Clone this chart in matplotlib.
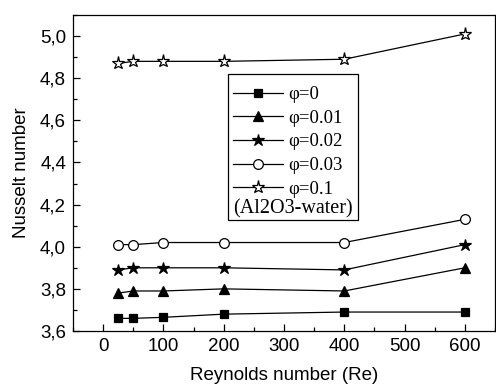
import numpy as np
import matplotlib.pyplot as plt
from matplotlib.ticker import MultipleLocator, FuncFormatter
from matplotlib.patches import Rectangle

# data
re = [25, 50, 100, 200, 400, 600]
nu_0 = [3.66, 3.66, 3.665, 3.68, 3.69, 3.69]
nu_001 = [3.78, 3.79, 3.79, 3.80, 3.79, 3.90]
nu_002 = [3.89, 3.90, 3.90, 3.90, 3.89, 4.01]
nu_003 = [4.01, 4.01, 4.02, 4.02, 4.02, 4.13]
nu_01 = [4.87, 4.88, 4.88, 4.88, 4.89, 5.01]
labels = ['φ=0', 'φ=0.01', 'φ=0.02', 'φ=0.03', 'φ=0.1']

fig = plt.figure(figsize=(4.96, 3.88), dpi=100)
ax = fig.add_axes([73/496, 1-331/388, 422/496, 316/388])

styles = [('s', 'black', 6), ('^', 'black', 7.5), ('*', 'black', 9),
          ('o', 'white', 7), ('*', 'white', 9.5)]
series = [nu_0, nu_001, nu_002, nu_003, nu_01]
for y, lab, (m, fc, ms) in zip(series, labels, styles):
    ax.plot(re, y, color='black', lw=0.9, marker=m, ms=ms,
            mfc=fc, mec='black', mew=0.9, label=lab)

ax.set_xlim(-50, 650)
ax.set_ylim(3.6, 5.1)
ax.xaxis.set_major_locator(MultipleLocator(100))
ax.xaxis.set_minor_locator(MultipleLocator(50))
ax.yaxis.set_major_locator(MultipleLocator(0.2))
ax.yaxis.set_minor_locator(MultipleLocator(0.1))
ax.yaxis.set_major_formatter(FuncFormatter(lambda v, p: f"{v:.1f}".replace('.', ',')))
ax.tick_params(which='both', direction='in', top=False, right=False,
               labelsize=13.5, width=0.9)
ax.tick_params(which='major', length=5, pad=5)
ax.tick_params(which='minor', length=3)
for s in ax.spines.values():
    s.set_linewidth(0.9)

ax.set_xlabel('Reynolds number (Re)', fontsize=13.5, labelpad=9)
ax.set_ylabel('Nusselt number', fontsize=13.5, labelpad=7)

# legend box with the extra note line
x0, x1 = (228-73)/422, (358-73)/422
yt, yb = (331-74)/316, (331-220)/316
ax.add_patch(Rectangle((x0, yb), x1-x0, yt-yb, transform=ax.transAxes,
                       fill=False, ec='black', lw=0.9, zorder=5))
leg = ax.legend(loc='upper left', bbox_to_anchor=((233-73)/422, (331-86)/316),
                frameon=False, borderpad=0, borderaxespad=0, handlelength=2.67,
                handletextpad=0.27, labelspacing=0.35,
                prop={'family': 'Liberation Serif', 'size': 13.5})
ax.text((233-73+120/2)/422, (331-209)/316, '(Al2O3-water)', transform=ax.transAxes,
        ha='center', va='center', family='Liberation Serif', fontsize=14.5)

for t in ax.get_xticklabels() + ax.get_yticklabels():
    t.set_family('Liberation Sans')
ax.xaxis.label.set_family('Liberation Sans')
ax.yaxis.label.set_family('Liberation Sans')

fig.savefig('out.png', dpi=100)
